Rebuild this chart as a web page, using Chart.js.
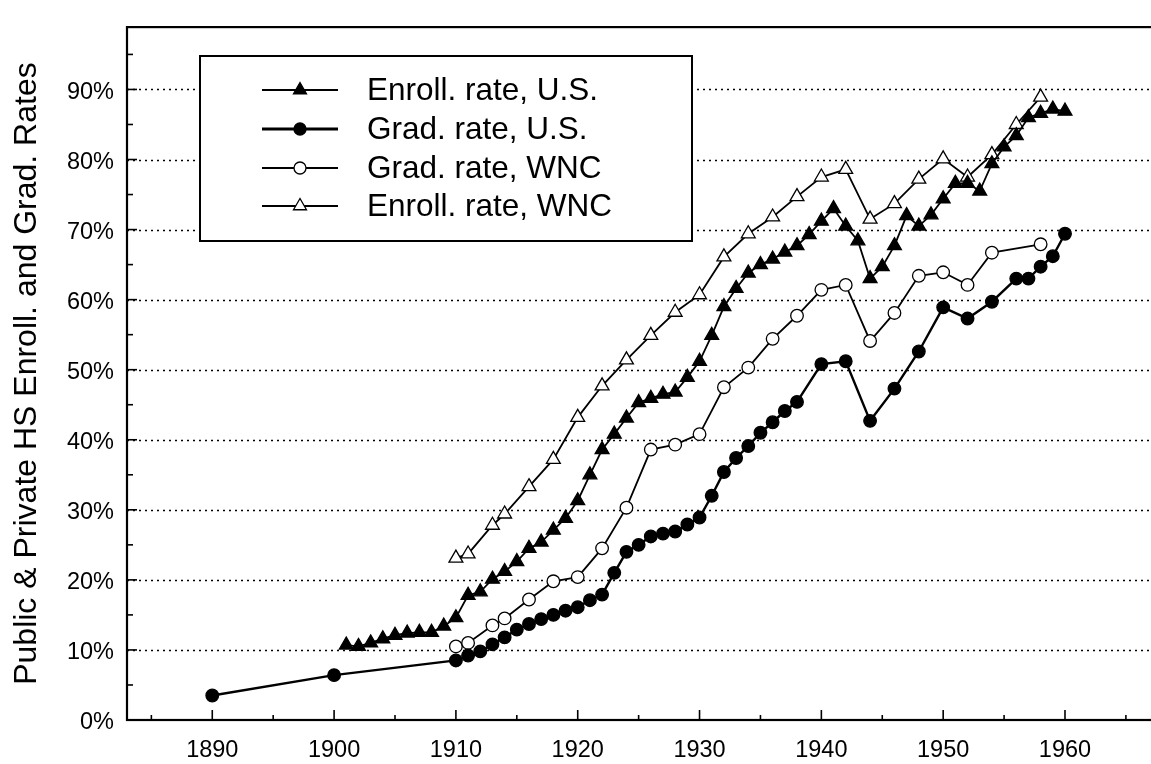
<!DOCTYPE html>
<html><head><meta charset="utf-8">
<script src="https://cdn.jsdelivr.net/npm/chart.js@4.4.0/dist/chart.umd.min.js"></script>
<style>
html,body{margin:0;padding:0;background:#fff;overflow:hidden;width:1151px;height:764px}
#c{display:block}
</style></head>
<body>
<canvas id="c" width="1162" height="764"></canvas>
<script>
// ---- data (percent) ----
const enrollUSYears = [1901,1902,1903,1904,1905,1906,1907,1908,1909,1910,1911,1912,1913,1914,1915,1916,1917,1918,1919,1920,1921,1922,1923,1924,1925,1926,1927,1928,1929,1930,1931,1932,1933,1934,1935,1936,1937,1938,1939,1940,1941,1942,1943,1944,1945,1946,1947,1948,1949,1950,1951,1952,1953,1954,1955,1956,1957,1958,1959,1960];
const enrollUSVals  = [10.7,10.5,11.0,11.6,12.1,12.4,12.5,12.5,13.4,14.6,17.8,18.3,20.1,21.2,22.6,24.5,25.4,27.1,28.8,31.3,35.0,38.6,40.8,43.1,45.3,45.9,46.5,46.8,48.9,51.2,54.9,59.0,61.6,63.8,65.0,65.8,66.8,67.7,69.3,71.2,73.0,70.5,68.4,63.0,64.7,67.7,72.0,70.5,72.1,74.4,76.6,76.6,75.5,79.4,81.8,83.4,86.0,86.6,87.2,86.9];

const gradUSYears = [1890,1900,1910,1911,1912,1913,1914,1915,1916,1917,1918,1919,1920,1921,1922,1923,1924,1925,1926,1927,1928,1929,1930,1931,1932,1933,1934,1935,1936,1937,1938,1940,1942,1944,1946,1948,1950,1952,1954,1956,1957,1958,1959,1960];
const gradUSVals  = [3.5,6.4,8.5,9.2,9.8,10.8,11.8,12.9,13.7,14.4,15.0,15.6,16.1,17.1,17.9,21.0,24.0,25.0,26.2,26.6,26.9,27.9,28.9,32.0,35.4,37.4,39.1,41.0,42.5,44.1,45.4,50.8,51.2,42.7,47.3,52.6,58.9,57.3,59.7,63.0,63.0,64.7,66.2,69.4];

const gradWNCYears = [1910,1911,1913,1914,1916,1918,1920,1922,1924,1926,1928,1930,1932,1934,1936,1938,1940,1942,1944,1946,1948,1950,1952,1954,1958];
const gradWNCVals  = [10.5,11.0,13.5,14.5,17.2,19.8,20.4,24.5,30.3,38.6,39.3,40.8,47.5,50.3,54.4,57.7,61.4,62.1,54.1,58.1,63.4,63.9,62.1,66.7,67.9];

const enrollWNCYears = [1910,1911,1913,1914,1916,1918,1920,1922,1924,1926,1928,1930,1932,1934,1936,1938,1940,1942,1944,1946,1948,1950,1952,1954,1956,1958];
const enrollWNCVals  = [23.1,23.7,27.8,29.4,33.3,37.2,43.2,47.7,51.4,54.9,58.2,60.7,66.1,69.4,71.8,74.7,77.5,78.6,71.5,73.7,77.2,80.1,77.5,80.7,85.0,88.9];

const seriesLabels = ['Enroll. rate, U.S.','Grad. rate, U.S.','Grad. rate, WNC','Enroll. rate, WNC'];
const yTickVals  = [0,10,20,30,40,50,60,70,80,90];
const yMinorVals = [5,15,25,35,45,55,65,75,85,95];
const xTickVals  = [1890,1900,1910,1920,1930,1940,1950,1960];
const xMinorVals = [1885,1895,1905,1915,1925,1935,1945,1955,1965];
const yAxisTitle = 'Public & Private HS Enroll. and Grad. Rates';

// ---- helpers ----
const FONT = '"Liberation Sans", Arial, Helvetica, sans-serif';
const pts = (xs, ys) => xs.map((x, i) => ({x: x, y: ys[i]}));

const styles = [
  {pointStyle:'triangle', fill:'#000', radius:8, lw:1.8},
  {pointStyle:'circle',   fill:'#000', radius:6.3, lw:2.4},
  {pointStyle:'circle',   fill:'#fff', radius:6.3, lw:1.8},
  {pointStyle:'triangle', fill:'#fff', radius:8, lw:1.8}
];
const seriesData = [
  pts(enrollUSYears, enrollUSVals),
  pts(gradUSYears, gradUSVals),
  pts(gradWNCYears, gradWNCVals),
  pts(enrollWNCYears, enrollWNCVals)
];

const datasets = seriesLabels.map((lab, i) => ({
  label: lab,
  data: seriesData[i],
  borderColor: '#000',
  borderWidth: styles[i].lw,
  pointStyle: styles[i].pointStyle,
  pointRadius: styles[i].radius,
  pointBackgroundColor: styles[i].fill,
  pointBorderColor: '#000',
  pointBorderWidth: 1.3,
  tension: 0,
  fill: false,
  clip: false
}));

function marker(ctx, style, r, x, y, fillc){
  ctx.beginPath();
  if (style === 'circle') {
    ctx.arc(x, y, r, 0, Math.PI*2);
  } else {
    let rad = 0;
    ctx.moveTo(x + Math.sin(rad)*r, y - Math.cos(rad)*r);
    rad += 2*Math.PI/3;
    ctx.lineTo(x + Math.sin(rad)*r, y - Math.cos(rad)*r);
    rad += 2*Math.PI/3;
    ctx.lineTo(x + Math.sin(rad)*r, y - Math.cos(rad)*r);
    ctx.closePath();
  }
  ctx.fillStyle = fillc; ctx.fill();
  ctx.lineWidth = 1.3; ctx.strokeStyle = '#000'; ctx.stroke();
}

const framePlugin = {
  id: 'frame',
  beforeDatasetsDraw(chart){
    const {ctx, chartArea: a, scales: {x, y}} = chart;
    ctx.save();
    ctx.strokeStyle = '#000';
    ctx.lineWidth = 1.3;
    ctx.setLineDash([2, 4]);
    yTickVals.forEach(v => {
      if (v === 0) return;
      const py = Math.round(y.getPixelForValue(v)) + 0.5;
      ctx.beginPath(); ctx.moveTo(a.left, py); ctx.lineTo(a.right, py); ctx.stroke();
    });
    ctx.restore();
  },
  afterDatasetsDraw(chart){
    const {ctx, chartArea: a, scales: {x, y}} = chart;
    ctx.save();
    ctx.strokeStyle = '#000';
    ctx.setLineDash([]);
    // ticks (inward)
    ctx.lineWidth = 1.6;
    const tick = (x1,y1,x2,y2) => { ctx.beginPath(); ctx.moveTo(x1,y1); ctx.lineTo(x2,y2); ctx.stroke(); };
    xTickVals.forEach(v => { const px = x.getPixelForValue(v); tick(px, a.bottom, px, a.bottom - 10); });
    xMinorVals.forEach(v => { const px = x.getPixelForValue(v); tick(px, a.bottom, px, a.bottom - 5); });
    yTickVals.forEach(v => { const py = y.getPixelForValue(v); tick(a.left, py, a.left + 10, py); });
    yMinorVals.forEach(v => { const py = y.getPixelForValue(v); tick(a.left, py, a.left + 6, py); });
    // frame
    ctx.lineWidth = 2.2;
    ctx.strokeRect(a.left, a.top, a.right - a.left, a.bottom - a.top);

    // legend box
    const L = {x: 200, y: 56, w: 492, h: 185};
    ctx.fillStyle = '#fff';
    ctx.fillRect(L.x, L.y, L.w, L.h);
    ctx.lineWidth = 2;
    ctx.strokeRect(L.x, L.y, L.w, L.h);
    const rows = [90, 129, 168, 206];
    chart.data.datasets.forEach((ds, i) => {
      const cy = rows[i];
      ctx.lineWidth = i === 1 ? 3.2 : 2.2;
      ctx.beginPath(); ctx.moveTo(262, cy); ctx.lineTo(338, cy); ctx.stroke();
      const st = styles[i];
      marker(ctx, st.pointStyle, st.pointStyle === 'circle' ? 6 : 7.5, 300, cy, st.fill);
      ctx.fillStyle = '#000';
      ctx.font = '31.5px ' + FONT;
      ctx.textBaseline = 'middle';
      ctx.textAlign = 'left';
      ctx.fillText(ds.label, 367, cy + 1);
    });
    ctx.restore();
  }
};

new Chart(document.getElementById('c'), {
  type: 'line',
  data: { datasets: datasets },
  options: {
    responsive: false,
    animation: false,
    events: [],
    layout: { padding: { top: 9, left: 0, right: 0, bottom: 0 } },
    plugins: { legend: { display: false }, tooltip: { enabled: false } },
    scales: {
      x: {
        type: 'linear',
        min: 1883, max: 1967.2,
        afterBuildTicks: s => { s.ticks = xTickVals.map(v => ({value: v})); },
        afterFit: s => { s.height = 44; },
        grid: { display: false, drawTicks: false },
        border: { display: false },
        ticks: {
          autoSkip: false, maxRotation: 0, padding: 16.5,
          color: '#000', font: { family: FONT, size: 23.5 },
          callback: v => String(v)
        }
      },
      y: {
        type: 'linear',
        min: 0, max: 98.9,
        afterBuildTicks: s => { s.ticks = yTickVals.map(v => ({value: v})); },
        afterFit: s => { s.width = 127; },
        grid: { display: false, drawTicks: false },
        border: { display: false },
        ticks: {
          padding: 13, color: '#000', font: { family: FONT, size: 23.5 },
          labelOffset: 3,
          callback: v => v + '%'
        },
        title: {
          display: true, text: yAxisTitle, color: '#000',
          font: { family: FONT, size: 32 },
          padding: { top: 8, bottom: 0 }
        }
      }
    }
  },
  plugins: [framePlugin]
});
</script>
</body></html>
